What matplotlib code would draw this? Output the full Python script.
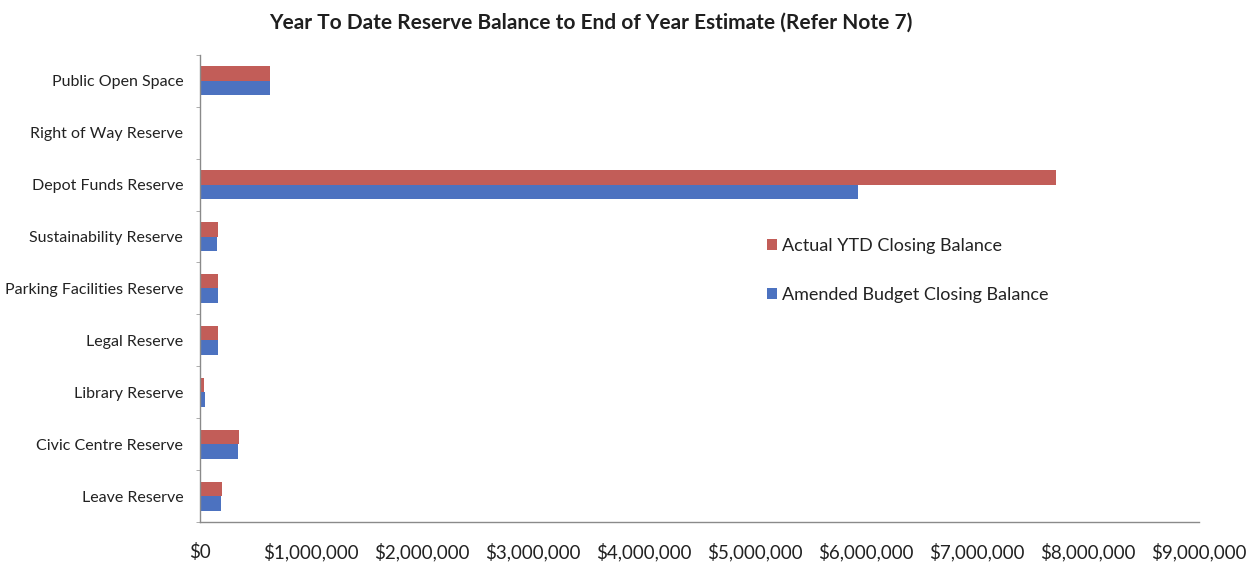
import matplotlib
matplotlib.use("Agg")
import matplotlib.pyplot as plt
import numpy as np
from matplotlib.ticker import FuncFormatter, MultipleLocator

categories = [
    "Public Open Space",
    "Right of Way Reserve",
    "Depot Funds Reserve",
    "Sustainability Reserve",
    "Parking Facilities Reserve",
    "Legal Reserve",
    "Library Reserve",
    "Civic Centre Reserve",
    "Leave Reserve",
]
actual_ytd = [635000, 3000, 7710000, 160000, 165000, 160000, 35000, 350000, 195000]
amended_budget = [635000, 3000, 5930000, 150000, 165000, 160000, 50000, 340000, 190000]
series_names = ["Actual YTD Closing Balance", "Amended Budget Closing Balance"]

plt.rcParams["font.family"] = ["Lato", "DejaVu Sans"]

fig = plt.figure(figsize=(12.57, 5.65), dpi=100)
ax = fig.add_axes([0.159, 0.076, 0.795, 0.827])

red = "#c25d58"
blue = "#4c72c0"
h = 0.28
y = np.arange(len(categories))
ax.barh(y - h / 2, actual_ytd, height=h, color=red, label=series_names[0])
ax.barh(y + h / 2, amended_budget, height=h, color=blue, label=series_names[1])

ax.set_ylim(len(categories) - 0.5, -0.5)
ax.set_xlim(0, 9000000)
ax.set_yticks(y)
ax.set_yticklabels(categories, fontsize=11.5, color="#222222")
ax.yaxis.set_minor_locator(MultipleLocator(1, offset=0.5))
ax.tick_params(axis="y", which="major", length=0, pad=12)
ax.tick_params(axis="y", which="minor", length=3, color="#a0a0a0")

ax.xaxis.set_major_locator(MultipleLocator(1000000))
ax.xaxis.set_major_formatter(FuncFormatter(lambda v, p: f"${v:,.0f}"))
ax.tick_params(axis="x", length=0, pad=15, labelsize=13.5, labelcolor="#222222")

for s in ["top", "right"]:
    ax.spines[s].set_visible(False)
for s in ["left", "bottom"]:
    ax.spines[s].set_color("#8a8a8a")
    ax.spines[s].set_linewidth(1.0)

fig.text(0.47, 0.96, "Year To Date Reserve Balance to End of Year Estimate (Refer Note 7)",
         ha="center", va="center", fontsize=15, fontweight="bold", color="#1f1f1f")

leg = ax.legend(loc="upper left", bbox_to_anchor=(0.551, 0.643), frameon=False,
                fontsize=13, handlelength=0.55, handleheight=0.55, handletextpad=0.3,
                labelspacing=1.85, labelcolor="#222222")

fig.savefig("out.png", dpi=100, facecolor="white")
